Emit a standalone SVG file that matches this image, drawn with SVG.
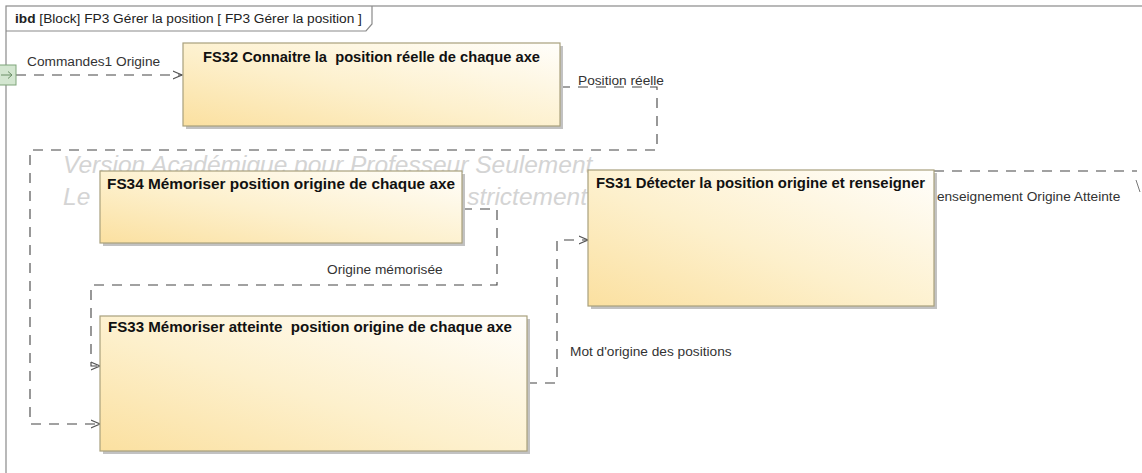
<svg xmlns="http://www.w3.org/2000/svg" width="1142" height="473" viewBox="0 0 1142 473">
  <defs>
    <linearGradient id="blockFill" x1="0" y1="1" x2="1" y2="0">
      <stop offset="0" stop-color="#fbe0a0"/>
      <stop offset="0.45" stop-color="#fdf0cc"/>
      <stop offset="1" stop-color="#fffefb"/>
    </linearGradient>
    <marker id="open" viewBox="0 0 10 10" refX="9.5" refY="5" markerWidth="10" markerHeight="10" markerUnits="userSpaceOnUse" orient="auto">
      <path d="M0,1 L9.5,5 L0,9" fill="none" stroke="#555" stroke-width="1.1"/>
    </marker>
    <style>
      .frame { fill: none; stroke: #8a8a8a; stroke-width: 1.2; }
      .hdr { font-family: "Liberation Sans", Arial, sans-serif; font-size: 13.7px; fill: #222; }
      .block { fill: url(#blockFill); stroke: #a8a07c; stroke-width: 1.2; }
      .shadow { fill: #c2c2c2; }
      .title { font-family: "Liberation Sans", Arial, sans-serif; font-size: 14.8px; font-weight: bold; fill: #111; white-space: pre; }
      .flow { fill: none; stroke: #444; stroke-width: 1.1; stroke-dasharray: 10 8; }
      .lbl { font-family: "Liberation Sans", Arial, sans-serif; font-size: 13.7px; fill: #333; }
      .wm { font-family: "Liberation Sans", Arial, sans-serif; font-size: 24.5px; font-style: italic; fill: #d4d4d4; }
    </style>
  </defs>

  <rect width="1142" height="473" fill="#ffffff"/>

  <!-- ibd frame and header tab -->
  <g id="frame">
    <rect class="frame" x="6" y="6" width="1200" height="600"/>
    <path class="frame" d="M6,31 H366 L372,24 V6"/>
    <text class="hdr" x="15" y="23"><tspan font-weight="bold">ibd</tspan> [Block] FP3 Gérer la position [ FP3 Gérer la position ]</text>
  </g>

  <!-- academic licence watermark -->
  <g id="watermark">
    <text class="wm" x="63" y="173">Version Académique pour Professeur Seulement</text>
    <text class="wm" x="63" y="205">Le</text>
    <text class="wm" x="587" y="205" text-anchor="end">strictement</text>
  </g>

  <!-- item flows -->
  <g id="connectors">
    <path class="flow" d="M16,75 H182" marker-end="url(#open)"/>
    <text class="lbl" x="27" y="66">Commandes1 Origine</text>

    <path class="flow" d="M560,87 H657 V150 H30 V424 H100" marker-end="url(#open)"/>
    <text class="lbl" x="578" y="85">Position réelle</text>

    <path class="flow" d="M462,209 H497 V285 H91 V366 H100" marker-end="url(#open)"/>
    <text class="lbl" x="327" y="274">Origine mémorisée</text>

    <path class="flow" d="M527,383 H557 V240 H588" marker-end="url(#open)"/>
    <text class="lbl" x="570" y="356">Mot d'origine des positions</text>

    <path class="flow" d="M934,171 H1137"/>
    <path d="M1136,180 L1140,192" fill="none" stroke="#777" stroke-width="1"/>
    <text class="lbl" x="927" y="201">Renseignement Origine Atteinte</text>
  </g>

  <!-- boundary port -->
  <g id="port">
    <rect x="-3" y="65" width="19" height="20" fill="#d3e6d0" stroke="#7fa57a" stroke-width="1"/>
    <path d="M1,75 H12 M8,71.5 L12,75 L8,78.5" fill="none" stroke="#6a8f66" stroke-width="1"/>
  </g>

  <g id="fs32">
    <rect class="shadow" x="186" y="46" width="377" height="83"/>
    <rect class="block" x="183" y="43" width="377" height="83"/>
    <text class="title" x="203" y="62" textLength="337" lengthAdjust="spacingAndGlyphs">FS32 Connaitre la  position réelle de chaque axe</text>
  </g>

  <g id="fs34">
    <rect class="shadow" x="103" y="174" width="362" height="72"/>
    <rect class="block" x="100" y="171" width="362" height="72"/>
    <text class="title" x="107" y="189" textLength="348" lengthAdjust="spacingAndGlyphs">FS34 Mémoriser position origine de chaque axe</text>
  </g>

  <g id="fs31">
    <rect class="shadow" x="591" y="173" width="346" height="136"/>
    <rect class="block" x="588" y="170" width="346" height="136"/>
    <text class="title" x="596" y="188" textLength="329" lengthAdjust="spacingAndGlyphs">FS31 Détecter la position origine et renseigner</text>
  </g>

  <g id="fs33">
    <rect class="shadow" x="103" y="319" width="427" height="135"/>
    <rect class="block" x="100" y="316" width="427" height="135"/>
    <text class="title" x="108" y="332" textLength="404" lengthAdjust="spacingAndGlyphs">FS33 Mémoriser atteinte  position origine de chaque axe</text>
  </g>
</svg>
